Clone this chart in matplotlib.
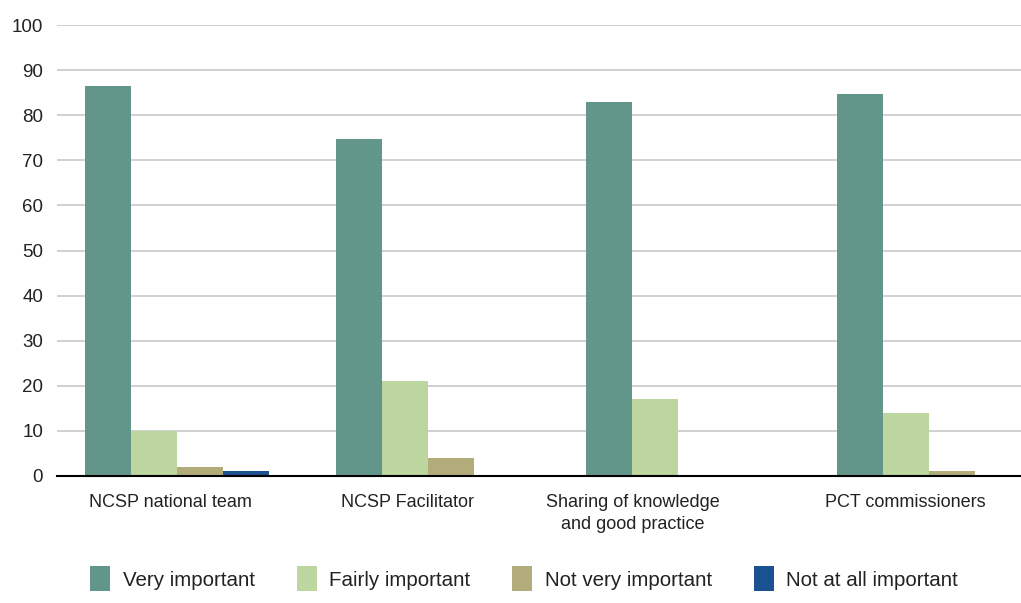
import numpy as np
import matplotlib.pyplot as plt

plt.rcParams['font.family'] = ['Liberation Sans', 'DejaVu Sans']

# Survey results (% of respondents)
categories = ['NCSP national team', 'NCSP Facilitator',
              'Sharing of knowledge\nand good practice', 'PCT commissioners']
series_names = ['Very important', 'Fairly important', 'Not very important', 'Not at all important']
very_important = [86.5, 74.8, 83.0, 84.8]
fairly_important = [10.0, 21.0, 17.0, 14.0]
not_very_important = [2.0, 4.0, 0.0, 1.0]
not_at_all_important = [1.0, 0.0, 0.0, 0.0]
y_ticks = [0, 10, 20, 30, 40, 50, 60, 70, 80, 90, 100]

colors = ['#62968A', '#BDD59F', '#B2AB7A', '#1A5190']
text_color = '#222222'

fig = plt.figure(figsize=(10.21, 6.03), dpi=100)
ax = fig.add_axes([57 / 1021, 127 / 603, 964 / 1021, 451 / 603])

x = np.arange(len(categories))
width = 0.1835
offsets = [-1.5 * width, -0.5 * width, 0.5 * width, 1.5 * width]
data = [very_important, fairly_important, not_very_important, not_at_all_important]

for vals, off, col, name in zip(data, offsets, colors, series_names):
    ax.bar(x + off, vals, width=width, color=col, label=name, linewidth=0, zorder=2)

ax.set_ylim(0, 100)
ax.set_xlim(-0.479, 3.367)
ax.set_yticks(y_ticks)
ax.yaxis.grid(True, color='#C8C8C8', linewidth=1.2, zorder=0)
ax.set_axisbelow(True)
ax.tick_params(axis='y', length=0, pad=10, labelsize=13.5, labelcolor=text_color)
ax.tick_params(axis='x', length=0, pad=13, labelsize=13, labelcolor=text_color)

# category labels sit a little left of the group centres
label_shift = [-0.025, -0.08, -0.18, -0.095]
ax.set_xticks(x + np.array(label_shift))
ax.set_xticklabels(categories, linespacing=1.4, va='top')

for side in ['top', 'right', 'left']:
    ax.spines[side].set_visible(False)
ax.spines['bottom'].set_color('black')
ax.spines['bottom'].set_linewidth(1.5)
ax.spines['bottom'].set_zorder(3)

fig.legend(loc='lower left', bbox_to_anchor=(74 / 1021, -0.008), ncol=4, frameon=False,
           fontsize=14.8, handlelength=0.97, handleheight=1.5, handletextpad=0.6,
           columnspacing=2.05, labelcolor=text_color, borderaxespad=0.4)

fig.savefig('out.png', dpi=100)
